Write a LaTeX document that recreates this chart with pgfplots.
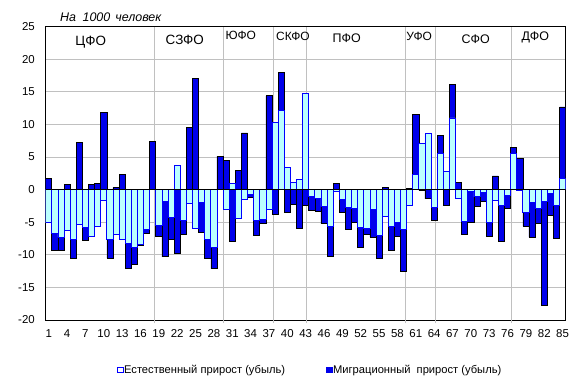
\documentclass[border=0pt]{standalone}
\usepackage{pgfplots}
\pgfplotsset{compat=1.18}
\usepackage{pgfplotstable}
\usepackage{fontspec}
\setmainfont{Liberation Sans}
\definecolor{natfill}{RGB}{187,255,255}
\definecolor{migfill}{RGB}{0,0,235}
\definecolor{gridc}{RGB}{192,192,192}

\pgfplotstableread{
i nat mig
1 -5.1 1.7
2 -6.7 -2.6
3 -7.3 -2.0
4 -6.2 0.8
5 -7.7 -2.9
6 -5.4 7.2
7 -5.8 -1.9
8 -7.2 0.8
9 -5.7 1.0
10 -1.7 11.8
11 -7.6 -2.9
12 -6.9 0.3
13 -7.6 2.3
14 -8.2 -3.9
15 -8.8 -2.6
16 -8.4 -0.2
17 -6.1 -0.6
18 0 7.4
19 -5.5 -1.7
20 -1.8 -8.5
21 -4.2 -3.4
22 3.7 -9.8
23 -4.7 -2.2
24 -2.1 9.5
25 -6.0 17.1
26 -1.9 -4.6
27 -7.6 -2.9
28 -8.9 -3.2
29 0 5.1
30 -3.0 4.5
31 0.9 -8.0
32 -4.4 2.9
33 -1.5 8.7
34 -0.8 -0.4
35 -4.7 -2.3
36 -4.5 -0.6
37 -3.1 14.4
38 10.3 -3.8
39 12.1 5.9
40 3.45 -3.4
41 1.1 -2.2
42 1.6 -6.0
43 14.7 -2.4
44 -1.1 -2.0
45 -1.4 -1.9
46 -2.6 -2.6
47 -5.6 -4.7
48 -0.3 1.0
49 -1.5 -1.9
50 -2.75 -3.35
51 -2.9 -2.15
52 -5.8 -3.0
53 -6.0 -0.9
54 -3.05 -4.2
55 -7.0 -3.5
56 -4.1 0.35
57 -5.6 -3.7
58 -5.1 -2.0
59 -6.1 -6.5
60 -2.4 0.2
61 2.3 9.2
62 7.05 -0.15
63 8.6 -1.4
64 -2.7 -2.0
65 5.5 2.8
66 2.8 -2.4
67 11.0 5.1
68 -1.3 1.1
69 -4.8 -2.05
70 -0.2 -4.8
71 -1.1 -1.5
72 -0.4 -1.4
73 -5.1 -2.1
74 -1.6 2.1
75 -2.4 -5.5
76 -0.9 -1.95
77 5.5 0.95
78 -0.1 4.8
79 -3.45 -2.15
80 -2.0 -5.3
81 -2.85 -2.25
82 -1.8 -15.9
83 -0.65 -3.25
84 -2.4 -5.05
85 1.7 11.0
}\data

\begin{document}
\begin{tikzpicture}[x=1bp,y=1bp]
\path[use as bounding box] (0,0) rectangle (580,391);
\begin{axis}[
  at={(45.67bp,71bp)}, anchor=south west,
  scale only axis, width=520bp, height=293.3bp,
  xmin=0.5, xmax=85.5, ymin=-20, ymax=25,
  xtick={1,4,...,85}, ytick={-20,-15,...,25},
  major tick length=0pt, tick pos=left,
  ymajorgrids, grid style={gridc, line width=0.8bp},
  extra x ticks={18.26,29.5,37.72,43.06,59.3,64.2,76.6},
  extra x tick labels={},
  extra x tick style={grid=major, major tick length=3.3bp, tick align=outside, tick style={gridc, line width=0.8bp}},
  axis line style={black, line width=1bp},
  /pgf/number format/assume math mode=true,
  every tick label/.append style={font=\fontsize{11.5}{12}\selectfont},
  yticklabel style={anchor=east, inner sep=0pt, xshift=-10.7bp},
  xticklabel style={anchor=north, inner sep=0pt, yshift=-9.3bp},
  legend style={draw=none, fill=none, at={(0.137,-0.170)}, anchor=west,
    legend columns=2, font=\fontsize{11.2}{12}\selectfont, inner sep=0pt,
    /tikz/every even column/.append style={column sep=40bp},
    nodes={inner sep=1bp}},
]
\addplot[ybar, bar width=1, bar shift=0, fill=migfill, draw=black, line width=0.6bp, forget plot]
  table[x=i, y expr={(\thisrow{nat}*\thisrow{mig}>0) ? (\thisrow{nat}+\thisrow{mig}) : (\thisrow{mig})}] {\data};
\addplot[ybar, bar width=1, bar shift=0, fill=natfill, draw=blue, line width=0.8bp, forget plot]
  table[x=i, y=nat] {\data};
\addplot[black, line width=1bp, forget plot] coordinates {(0.5,0) (85.5,0)};
\addlegendimage{legend image code/.code={\draw[blue, fill=white, line width=0.6bp] (0bp,-2.6bp) rectangle (5.4bp,2.8bp);}}
\addlegendentry{Естественный прирост (убыль)}
\addlegendimage{legend image code/.code={\draw[migfill, fill=migfill, line width=0.6bp] (0bp,-2.6bp) rectangle (5.4bp,2.8bp);}}
\addlegendentry{Миграционный\ \ прирост (убыль)}
\end{axis}
\node[anchor=base west, font=\fontsize{12.5}{14}\selectfont\itshape] at (56.7,369.3) {На\hspace{6.5bp}1000\hspace{5bp}человек};
\node[anchor=base, font=\fontsize{13.5}{14}\selectfont] at (90.8,345.3) {ЦФО};
\node[anchor=base, font=\fontsize{13.5}{14}\selectfont] at (184.8,347) {СЗФО};
\node[anchor=base, font=\fontsize{12}{14}\selectfont] at (240.8,351.7) {ЮФО};
\node[anchor=base, font=\fontsize{12}{14}\selectfont] at (293,350.3) {СКФО};
\node[anchor=base, font=\fontsize{12.5}{14}\selectfont] at (346.7,348.7) {ПФО};
\node[anchor=base, font=\fontsize{12}{14}\selectfont] at (419.2,350.3) {УФО};
\node[anchor=base, font=\fontsize{12.5}{14}\selectfont] at (475.7,347.7) {СФО};
\node[anchor=base, font=\fontsize{12.5}{14}\selectfont] at (535.3,350.3) {ДФО};
\end{tikzpicture}
\end{document}
